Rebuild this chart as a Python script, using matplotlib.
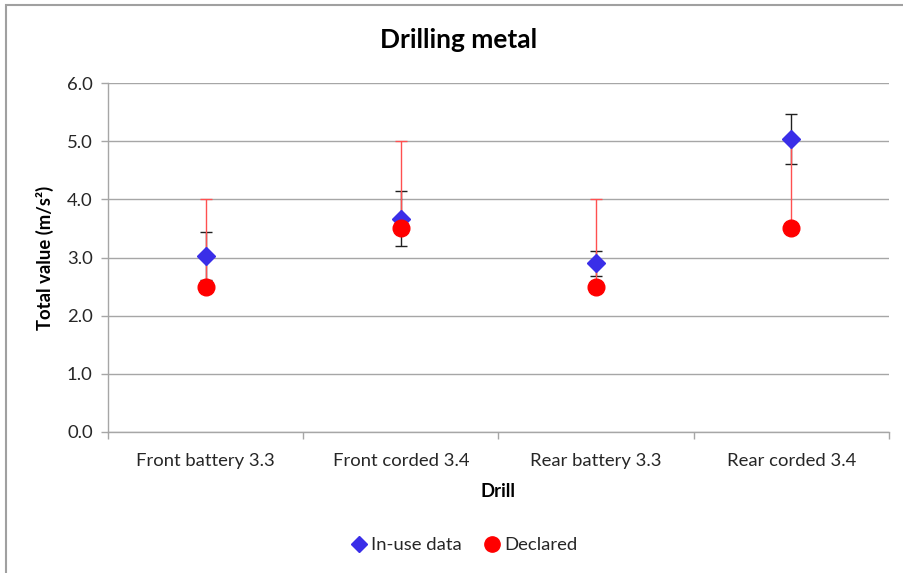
import matplotlib
matplotlib.use("Agg")
import matplotlib.pyplot as plt
from matplotlib.lines import Line2D
from matplotlib.patches import Rectangle
import numpy as np

plt.rcParams['font.family'] = ['Lato', 'DejaVu Sans']

categories = ["Front battery 3.3", "Front corded 3.4", "Rear battery 3.3", "Rear corded 3.4"]
in_use = [3.02, 3.67, 2.90, 5.03]
in_use_err = [0.41, 0.47, 0.22, 0.43]
declared = [2.5, 3.5, 2.5, 3.5]
declared_upper = [1.5, 1.5, 1.5, 1.5]
y_ticks = [0.0, 1.0, 2.0, 3.0, 4.0, 5.0, 6.0]

W, H = 904, 573
fig = plt.figure(figsize=(W / 100, H / 100), dpi=100)
ax = fig.add_axes([108 / W, 1 - 432 / H, (889 - 108) / W, (432 - 83) / H])

x = np.arange(len(categories)) + 0.5
grid_c = "#a6a6a6"
txt_c = "#262626"
fs = 13.3

# error bars
ax.errorbar(x, in_use, yerr=in_use_err, fmt="none", ecolor="#202020",
            elinewidth=1.0, capsize=4, capthick=1.0, zorder=3)
ax.errorbar(x, declared, yerr=[np.zeros(len(declared)), declared_upper], fmt="none",
            ecolor="#ff5050", elinewidth=1.0, capsize=4, capthick=1.0, zorder=3.5)

ax.plot(x, in_use, linestyle="none", marker="D", markersize=9,
        color="#3a2ee8", markeredgecolor="#3a2ee8", zorder=4, label="In-use data")
ax.plot(x, declared, linestyle="none", marker="o", markersize=12,
        color="#ff0000", markeredgecolor="#ff0000", zorder=5, label="Declared")

ax.set_xlim(0, len(categories))
ax.set_ylim(0, 6)
ax.set_yticks(y_ticks)
ax.set_yticklabels([f"{v:.1f}" for v in y_ticks])
ax.set_xticks(np.arange(len(categories) + 1))
ax.set_xticklabels([])
ax.set_xticks(x, minor=True)
ax.set_xticklabels(categories, minor=True)
ax.tick_params(axis="x", which="minor", length=0, pad=15, labelsize=fs, colors=txt_c)
ax.tick_params(axis="x", which="major", length=5, color=grid_c, width=1)
ax.tick_params(axis="y", length=5, color=grid_c, width=1, labelsize=fs,
               labelcolor=txt_c, pad=6)

ax.grid(axis="y", color=grid_c, linewidth=1.0)
ax.set_axisbelow(True)
for s in ["top", "right"]:
    ax.spines[s].set_visible(False)
for s in ["left", "bottom"]:
    ax.spines[s].set_color(grid_c)
    ax.spines[s].set_linewidth(1.0)

fig.text(459 / W, 1 - 40 / H, "Drilling metal", fontsize=19, fontweight="bold",
         ha="center", va="center", color="#000000")
ax.set_ylabel("Total value (m/s²)", fontsize=fs, fontweight="bold", labelpad=9)
ax.set_xlabel("Drill", fontsize=fs, fontweight="bold", labelpad=10)

leg = fig.legend(handles=[
    Line2D([], [], linestyle="none", marker="D", markersize=8, color="#3a2ee8"),
    Line2D([], [], linestyle="none", marker="o", markersize=11, color="#ff0000")],
    labels=["In-use data", "Declared"], loc="center", bbox_to_anchor=(465 / W, 1 - 545 / H),
    ncol=2, frameon=False, fontsize=fs, handlelength=0.7, handletextpad=0.3,
    columnspacing=1.3)
for t in leg.get_texts():
    t.set_color(txt_c)

# chart frame
fig.add_artist(Rectangle((6 / W, -0.1), 1.1, 1.1 - 5 / H, transform=fig.transFigure,
                         fill=False, edgecolor="#a0a0a0", linewidth=1.5))

fig.savefig("out.png", dpi=100)
